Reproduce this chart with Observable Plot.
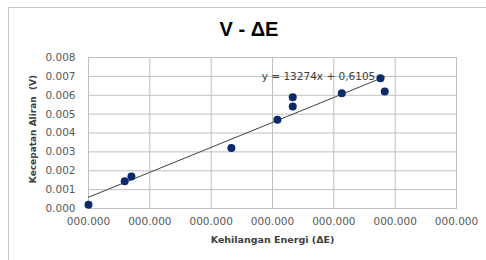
<!DOCTYPE html>
<html>
<head>
<meta charset="utf-8">
<script src="https://cdn.jsdelivr.net/npm/d3@7"></script>
<script src="https://cdn.jsdelivr.net/npm/@observablehq/plot@0.6"></script>
<style>
  html, body { margin: 0; padding: 0; background: #fff; }
  #wrap { position: relative; width: 486px; height: 260px; overflow: hidden; }
  #border { position: absolute; left: 8px; top: 7px; width: 600px; height: 300px;
            border-left: 1px solid #c8c8c8; border-top: 1px solid #c8c8c8; }
  #title { position: absolute; left: 8px; top: 0; width: 482px; height: 45px;
           font: bold 20px "Liberation Sans", Arial, sans-serif; line-height: 58px;
           text-align: center; color: #000; }
  #chart { position: absolute; left: 0; top: 45px; }
</style>
</head>
<body>
<div id="wrap">
  <div id="border"></div>
  <div id="title">V - ΔE</div>
  <div id="chart"></div>
</div>
<script>
// Data (x in grid units, labels hidden as "000.000")
const energyLoss = [0, 0.59, 0.70, 2.33, 3.08, 3.33, 3.33, 4.13, 4.76, 4.83];
const velocity   = [0.0002, 0.00145, 0.0017, 0.0032, 0.0047, 0.0054, 0.0059, 0.0061, 0.0069, 0.0062];
const xTicks = [0, 1, 2, 3, 4, 5, 6];
const xTickLabels = ["000.000", "000.000", "000.000", "000.000", "000.000", "000.000", "000.000"];
const yTicks = [0, 0.001, 0.002, 0.003, 0.004, 0.005, 0.006, 0.007, 0.008];
const trendLabel = "y = 13274x + 0,6105";
const xTitle = "Kehilangan Energi (ΔE)";
const yTitle = "Kecepatan Aliran  (V)";

const data = energyLoss.map((x, i) => ({x, y: velocity[i]}));

const font = "DejaVu Sans, sans-serif";
const chart = Plot.plot({
  width: 486,
  height: 215,
  marginLeft: 88,
  marginRight: 30,
  marginTop: 12,
  marginBottom: 52,
  style: {fontFamily: font, fontSize: "10.5px", color: "#595959", background: "transparent", overflow: "visible"},
  x: {domain: [0, 6], ticks: xTicks},
  y: {domain: [0, 0.008], ticks: yTicks},
  marks: [
    Plot.gridX(xTicks, {stroke: "#c0c0c0", strokeOpacity: 1}),
    Plot.gridY(yTicks, {stroke: "#c0c0c0", strokeOpacity: 1}),
    Plot.frame({stroke: "#c0c0c0"}),
    Plot.axisX(xTicks, {tickSize: 0, tickPadding: 9, label: null,
      tickFormat: (d, i) => xTickLabels[i], fill: "#595959", fontSize: 10.5}),
    Plot.axisY(yTicks, {tickSize: 0, tickPadding: 13, label: null,
      tickFormat: d => d.toFixed(3), fill: "#595959", fontSize: 10.5}),
    Plot.linearRegressionY(data, {x: "x", y: "y", ci: 0, stroke: "#404040", strokeWidth: 1}),
    Plot.dot(data, {x: "x", y: "y", r: 4, fill: "#0b2a6b", stroke: null}),
    Plot.text([trendLabel], {x: 3.75, y: 0.0070, text: d => d, fill: "#404040",
      fontSize: 10.5, fontFamily: font}),
    Plot.text([xTitle], {frameAnchor: "bottom", dy: 34, text: d => d, fill: "#404040",
      fontWeight: "bold", fontSize: 9.5, fontFamily: font}),
    Plot.text([yTitle], {frameAnchor: "left", textAnchor: "middle", dx: -55, dy: -4, rotate: -90,
      text: d => d, fill: "#404040", fontWeight: "bold", fontSize: 9, fontFamily: font})
  ]
});
document.getElementById("chart").appendChild(chart);
</script>
</body>
</html>
